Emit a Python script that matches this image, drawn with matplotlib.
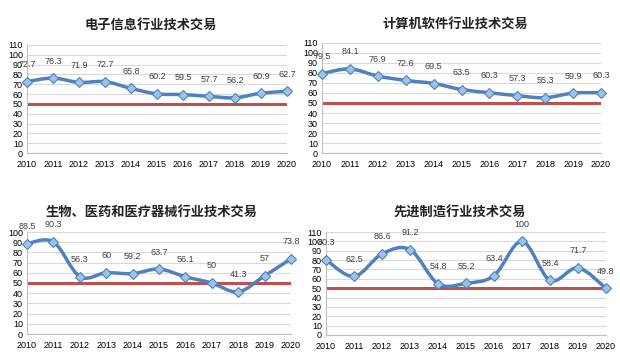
import matplotlib
matplotlib.use("Agg")
import matplotlib.pyplot as plt
from matplotlib.path import Path
from matplotlib.patches import PathPatch

plt.rcParams['font.family'] = ['Liberation Sans', 'Noto Sans CJK SC', 'DejaVu Sans']

years = list(range(2010, 2021))
year_labels = [str(y) for y in years]

# values
electronics = [72.7, 76.3, 71.9, 72.7, 65.8, 60.2, 59.5, 57.7, 56.2, 60.9, 62.7]
software = [79.5, 84.1, 76.9, 72.6, 69.5, 63.5, 60.3, 57.3, 55.3, 59.9, 60.3]
biomed = [88.5, 90.3, 56.3, 60, 59.2, 63.7, 56.1, 50, 41.3, 57, 73.8]
advanced = [80.3, 62.5, 86.6, 91.2, 54.8, 55.2, 63.4, 100, 58.4, 71.7, 49.8]

titles = ["电子信息行业技术交易", "计算机软件行业技术交易",
          "生物、医药和医疗器械行业技术交易", "先进制造行业技术交易"]
series = [electronics, software, biomed, advanced]
y_max = [110, 110, 100, 110]
threshold = 50

# pixel boxes: left, right, top, bottom ; title centre x, y
boxes = [(27, 287, 45, 153), (322, 601, 43, 153),
         (27, 291, 232, 334), (326, 606, 232, 335)]
title_pos = [(151, 25), (455, 24), (152, 212), (460, 213)]

W, H = 620, 360
blue = "#4F81BD"
red = "#C0504D"

fig = plt.figure(figsize=(6.2, 3.6), dpi=100)


def smooth_path(xs, ys):
    # Excel-style smoothed line: cubic Bezier through the data points
    verts = [(xs[0], ys[0])]
    codes = [Path.MOVETO]
    n = len(xs)
    for i in range(n - 1):
        x0, y0 = (xs[i - 1], ys[i - 1]) if i > 0 else (xs[i], ys[i])
        x1, y1 = xs[i], ys[i]
        x2, y2 = xs[i + 1], ys[i + 1]
        x3, y3 = (xs[i + 2], ys[i + 2]) if i + 2 < n else (x2, y2)
        c1 = (x1 + (x2 - x0) / 6, y1 + (y2 - y0) / 6)
        c2 = (x2 - (x3 - x1) / 6, y2 - (y3 - y1) / 6)
        verts += [c1, c2, (x2, y2)]
        codes += [Path.CURVE4] * 3
    return Path(verts, codes)


for k in range(4):
    l, r, t, b = boxes[k]
    ax = fig.add_axes([l / W, 1 - b / H, (r - l) / W, (b - t) / H])
    vals = series[k]
    ax.set_xlim(2010, 2020)
    ax.set_ylim(0, y_max[k])
    ax.set_yticks(range(0, y_max[k] + 1, 10))
    ax.set_xticks(years)
    ax.set_xticklabels(year_labels)
    ax.tick_params(length=0, labelsize=6.5, colors="#000000", pad=5)
    ax.tick_params(axis="y", pad=3)
    ax.grid(axis="y", color="#D9D9D9", lw=0.8)
    ax.set_axisbelow(True)
    for s in ["top", "right"]:
        ax.spines[s].set_visible(False)
    for s in ["left", "bottom"]:
        ax.spines[s].set_color("#BFBFBF")
        ax.spines[s].set_linewidth(0.8)

    ax.axhline(threshold, color=red, lw=2.2, zorder=2)
    patch = PathPatch(smooth_path(years, vals), fill=False, edgecolor=blue,
                      lw=2.5, zorder=3, clip_on=False)
    ax.add_patch(patch)
    ax.plot(years, vals, ls="none", marker="D", ms=5.5, mfc="#9CC3E8",
            mec=blue, mew=0.8, zorder=4, clip_on=False)
    for x, v in zip(years, vals):
        ax.annotate(f"{v:g}", (x, v), xytext=(0, 9), textcoords="offset points",
                    ha="center", va="bottom", fontsize=6.5, color="#404040")

    tx, ty = title_pos[k]
    fig.text(tx / W, 1 - ty / H, titles[k], ha="center", va="center",
             fontsize=9.5, fontweight="bold", color="#222222",
             family=["Noto Sans CJK SC", "DejaVu Sans"])

fig.savefig("out.png", dpi=100)
